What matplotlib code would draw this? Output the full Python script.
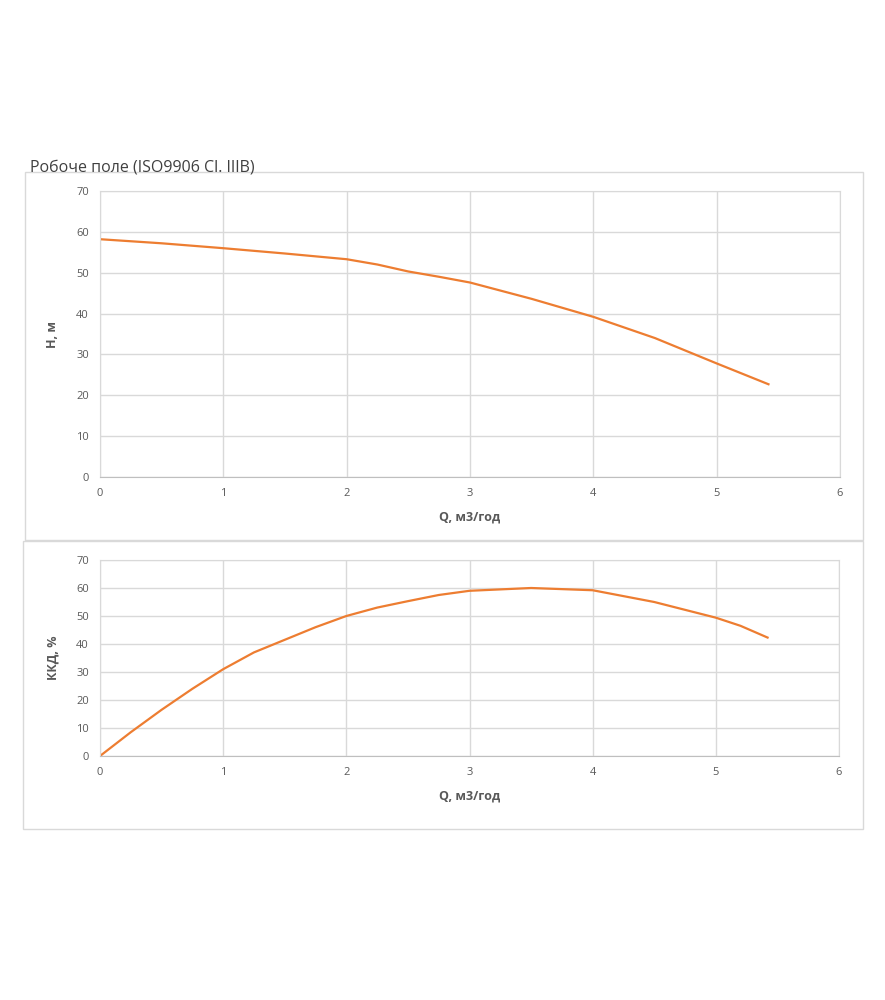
import matplotlib
matplotlib.use("Agg")
import matplotlib.pyplot as plt
from matplotlib.patches import Rectangle

# Data
q_head = [0, 0.5, 1.0, 1.5, 2.0, 2.25, 2.5, 2.75, 3.0, 3.5, 4.0, 4.5, 5.0, 5.42]
head = [58.2, 57.2, 56.0, 54.7, 53.3, 52.0, 50.3, 49.0, 47.6, 43.6, 39.2, 34.0, 27.8, 22.7]

q_eff = [0, 0.25, 0.5, 0.75, 1.0, 1.25, 1.5, 1.75, 2.0, 2.25, 2.5, 2.75, 3.0, 3.5, 4.0, 4.5, 5.0, 5.2, 5.42]
eff = [0, 8.5, 16.5, 24.0, 31.0, 37.0, 41.5, 46.0, 50.0, 53.0, 55.3, 57.5, 59.0, 60.0, 59.2, 55.0, 49.4, 46.5, 42.3]

x_ticks = [0, 1, 2, 3, 4, 5, 6]
y_ticks = [0, 10, 20, 30, 40, 50, 60, 70]

title = "Робоче поле (ISO9906 Cl. IIIB)"
xlabel = "Q, м3/год"
ylabel_top = "H, м"
ylabel_bot = "ККД, %"

W, H = 885, 1000
fig = plt.figure(figsize=(W / 100, H / 100), dpi=100)
plt.rcParams['font.family'] = ['Open Sans', 'DejaVu Sans']

line_color = "#ED7D31"
grid_color = "#D9D9D9"
text_color = "#595959"

def fx(px):
    return px / W

def fy(py):
    return 1 - py / H

# Chart boxes
fig.patches.append(Rectangle((fx(25), fy(540)), fx(863) - fx(25), fy(172) - fy(540),
                             transform=fig.transFigure, fill=False, edgecolor=grid_color, lw=1))
fig.patches.append(Rectangle((fx(23), fy(829)), fx(863) - fx(23), fy(541) - fy(829),
                             transform=fig.transFigure, fill=False, edgecolor=grid_color, lw=1))

def style(ax):
    ax.set_xlim(0, 6)
    ax.set_ylim(0, 70)
    ax.set_xticks(x_ticks)
    ax.set_yticks(y_ticks)
    ax.grid(True, color=grid_color, lw=1)
    ax.set_axisbelow(True)
    ax.spines["top"].set_color(grid_color)
    ax.spines["right"].set_color(grid_color)
    ax.spines["left"].set_color(grid_color)
    ax.spines["bottom"].set_color("#BFBFBF")
    ax.tick_params(length=0, colors=text_color, labelsize=8, pad=8)
    ax.set_xlabel(xlabel, color=text_color, fontsize=9, fontweight="bold", labelpad=8)

ax1 = fig.add_axes([fx(100), fy(477), fx(840) - fx(100), fy(191) - fy(477)])
ax1.plot(q_head, head, color=line_color, lw=1.6, solid_joinstyle="round")
style(ax1)
ax1.set_ylabel(ylabel_top, color=text_color, fontsize=9, fontweight="bold", labelpad=12)

ax2 = fig.add_axes([fx(100), fy(756), fx(839) - fx(100), fy(560) - fy(756)])
ax2.plot(q_eff, eff, color=line_color, lw=1.6, solid_joinstyle="round")
style(ax2)
ax2.set_ylabel(ylabel_bot, color=text_color, fontsize=9, fontweight="bold", labelpad=12)

fig.text(fx(30), fy(171), title, fontsize=11.5, color="#404040", ha="left", va="baseline")

fig.savefig("out.png", dpi=100, facecolor="white")
